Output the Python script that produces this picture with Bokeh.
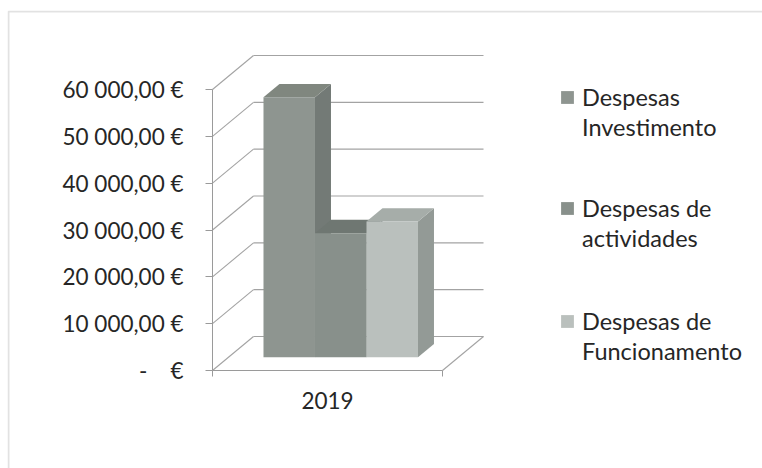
from bokeh.plotting import figure
from bokeh.models import Range1d, FixedTicker, Legend, LegendItem, BoxAnnotation
from bokeh.embed import file_html
from bokeh.resources import INLINE

# ---- data ----
categories = ["2019"]
series = [["Despesas", "Investimento"], ["Despesas de", "actividades"], ["Despesas de", "Funcionamento"]]
values = [55500, 26500, 29000]
y_ticks = [0, 10000, 20000, 30000, 40000, 50000, 60000]
y_tick_labels = ["-\u00a0\u00a0\u00a0\u00a0€", "10 000,00 €", "20 000,00 €", "30 000,00 €",
                 "40 000,00 €", "50 000,00 €", "60 000,00 €"]
front_colors = ["#8e9590", "#88908b", "#bac0bd"]
top_colors = ["#80877f", "#6f7772", "#a6ada9"]
side_colors = ["#737a76", "#6c736f", "#939a96"]

# ---- layout / projection (oblique 3D look) ----
W, H = 762, 468
FL, FT = 7, 10               # frame left / top in page pixels
AX_X, AX_Y = 212, 370        # page position of the value/category axes origin
PX = 60000 / 281.0           # value units per vertical pixel
DEPTH_X = 41.0               # x-units (px) of full depth
DEPTH_Y = 34 * PX            # value units of full depth
CAT_W = 230.0                # width of the category on the floor
BAR_X0 = 35.0
BAR_W = 51.5
F0, F1 = 0.39, 0.78          # bar depth span (fraction of full depth)
LEG_X = 559                  # legend left (page px)
LEG_BOTTOMS = [142, 253, 366]  # legend entry bottoms (page px)

FONT = "Lato"
TXT = "#262626"
GRID = "#a3a3a3"
AXC = "#9a9a9a"

p = figure(width=W, height=H, output_backend="svg", toolbar_location=None,
           x_range=Range1d(FL - AX_X, W - AX_X),
           y_range=Range1d(-(H - AX_Y) * PX, (AX_Y - FT) * PX),
           min_border_left=FL, min_border_right=0, min_border_top=FT, min_border_bottom=0)
p.outline_line_color = None
p.xgrid.visible = False
p.ygrid.visible = False
p.background_fill_color = "white"
p.border_fill_color = "white"

# walls: back gridlines, left wall diagonals, floor edge
p.multi_line(xs=[[DEPTH_X, CAT_W + DEPTH_X] for v in y_ticks],
             ys=[[v + DEPTH_Y, v + DEPTH_Y] for v in y_ticks], line_color=GRID, line_width=1.1)
p.multi_line(xs=[[0, DEPTH_X] for v in y_ticks],
             ys=[[v, v + DEPTH_Y] for v in y_ticks], line_color=GRID, line_width=1.1)
p.line(x=[CAT_W, CAT_W + DEPTH_X], y=[0, DEPTH_Y], line_color=GRID, line_width=1.1)

# bars
dx = (F1 - F0) * DEPTH_X
dy = (F1 - F0) * DEPTH_Y
base = F0 * DEPTH_Y
front_renderers = []
for k, val in enumerate(values):
    xl = BAR_X0 + k * BAR_W + F0 * DEPTH_X
    xr = xl + BAR_W
    top = base + val
    p.patch(x=[xr, xr + dx, xr + dx, xr], y=[base, base + dy, top + dy, top],
            fill_color=side_colors[k], line_color=None)
    p.patch(x=[xl, xr, xr + dx, xl + dx], y=[top, top, top + dy, top + dy],
            fill_color=top_colors[k], line_color=None)
    r = p.vbar(x=[(xl + xr) / 2], width=BAR_W, bottom=[base], top=[top],
               fill_color=front_colors[k], line_color=None)
    front_renderers.append(r)

# invisible renderer used for the second (wrapped) line of each legend entry
blank = p.vbar(x=[], width=1, top=[], fill_alpha=0, line_alpha=0)

# axes (drawn at fixed data locations inside the frame)
yax = p.yaxis[0]
yax.fixed_location = 0
yax.ticker = FixedTicker(ticks=y_ticks)
yax.major_label_overrides = {t: l for t, l in zip(y_ticks, y_tick_labels)}
yax.bounds = (0, 60000)
yax.axis_line_color = AXC
yax.major_tick_line_color = AXC
yax.major_tick_out = 7
yax.major_tick_in = 0
yax.minor_tick_out = 0
yax.minor_tick_in = 0
yax.major_label_standoff = 22
yax.major_label_text_font = FONT
yax.major_label_text_font_size = "22.5px"
yax.major_label_text_color = TXT

xax = p.xaxis[0]
xax.fixed_location = 0
xax.ticker = FixedTicker(ticks=[CAT_W / 2], minor_ticks=[0, CAT_W])
xax.major_label_overrides = {CAT_W / 2: categories[0]}
xax.bounds = (0, CAT_W)
xax.axis_line_color = AXC
xax.major_tick_out = 0
xax.major_tick_in = 0
xax.minor_tick_out = 6
xax.minor_tick_in = 0
xax.minor_tick_line_color = AXC
xax.major_label_standoff = 15
xax.major_label_text_font = FONT
xax.major_label_text_font_size = "22.5px"
xax.major_label_text_color = TXT

# legend: one block per series, first line carries the colour swatch
for lines, r, bottom in zip(series, front_renderers, LEG_BOTTOMS):
    lg = Legend(items=[LegendItem(label=lines[0], renderers=[r]),
                       LegendItem(label=lines[1], renderers=[blank])],
                location=(LEG_X - FL, H - bottom), orientation="vertical")
    lg.label_text_font = FONT
    lg.label_text_font_size = "23.5px"
    lg.label_text_color = TXT
    lg.label_height = 30
    lg.glyph_width = 16
    lg.glyph_height = 16
    lg.label_standoff = 7
    lg.spacing = 0
    lg.padding = 0
    lg.margin = 0
    lg.border_line_color = None
    lg.background_fill_alpha = 0
    p.add_layout(lg, "center")

# chart-area frame lines (top and left edges visible in the scan)
p.add_layout(BoxAnnotation(left=8, right=3000, top=11, bottom=3000,
                           left_units="canvas", right_units="canvas",
                           top_units="canvas", bottom_units="canvas",
                           fill_alpha=0, line_color="#a0a0a0", line_width=2))

open("out.html", "w").write(file_html(p, INLINE))
